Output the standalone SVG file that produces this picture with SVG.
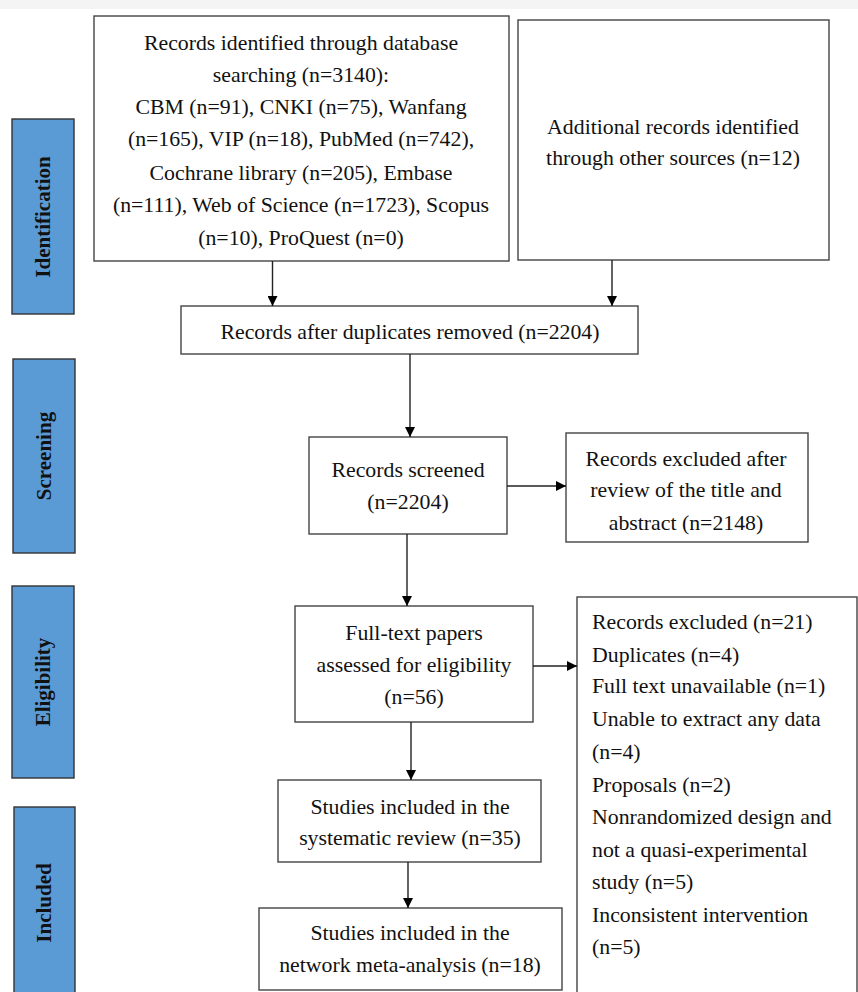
<svg xmlns="http://www.w3.org/2000/svg" width="858" height="992" viewBox="0 0 858 992">
<defs>
<style>
.box{fill:#fff;stroke:#444;stroke-width:1.4}
.bar{fill:#5b9bd5;stroke:#333;stroke-width:1.4}
.t{font-family:"Liberation Serif","Times New Roman",serif;font-size:21.8px;fill:#111}
.c{text-anchor:middle}
.v{font-family:"Liberation Serif","Times New Roman",serif;font-size:21px;font-weight:bold;fill:#111;text-anchor:middle}
.ln{stroke:#222;stroke-width:1.4;fill:none;marker-end:url(#ah)}
</style>
<marker id="ah" viewBox="0 0 10 10" refX="10" refY="5" markerWidth="10" markerHeight="10" markerUnits="userSpaceOnUse" orient="auto">
<path d="M0,0 L10,5 L0,10 z" fill="#000"/>
</marker>
</defs>
<rect x="0" y="0" width="858" height="992" fill="#fff"/>
<rect x="0" y="0" width="858" height="9" fill="#f4f4f4"/>

<g id="phase-identification"><rect class="bar" x="12" y="119" width="62" height="195"/><text class="v" transform="translate(50,217) rotate(-90)">Identification</text></g>
<g id="phase-screening"><rect class="bar" x="13" y="359" width="62" height="194"/><text class="v" transform="translate(51,456) rotate(-90)">Screening</text></g>
<g id="phase-eligibility"><rect class="bar" x="12" y="586" width="62" height="192"/><text class="v" transform="translate(50,682) rotate(-90)">Eligibility</text></g>
<g id="phase-included"><rect class="bar" x="14" y="807" width="61" height="200"/><text class="v" transform="translate(51,903) rotate(-90)">Included</text></g>

<g id="n-database"><rect class="box" x="94" y="16" width="415" height="245"/>
<text class="t c" x="301" y="50">Records identified through database</text>
<text class="t c" x="301" y="82">searching (n=3140):</text>
<text class="t c" x="301" y="114">CBM (n=91), CNKI (n=75), Wanfang</text>
<text class="t c" x="301" y="146">(n=165), VIP (n=18), PubMed (n=742),</text>
<text class="t c" x="301" y="180">Cochrane library (n=205), Embase</text>
<text class="t c" x="301" y="212">(n=111), Web of Science (n=1723), Scopus</text>
<text class="t c" x="301" y="245">(n=10), ProQuest (n=0)</text>
</g>
<g id="n-other"><rect class="box" x="518" y="20" width="311" height="240"/>
<text class="t c" x="673" y="134">Additional records identified</text>
<text class="t c" x="673" y="165">through other sources (n=12)</text>
</g>
<g id="n-dedup"><rect class="box" x="181" y="306" width="457" height="48"/>
<text class="t c" x="410" y="339">Records after duplicates removed (n=2204)</text>
</g>
<g id="n-screened"><rect class="box" x="309" y="437" width="198" height="97"/>
<text class="t c" x="408" y="477">Records screened</text>
<text class="t c" x="408" y="509">(n=2204)</text>
</g>
<g id="n-excl1"><rect class="box" x="566" y="433" width="242" height="109"/>
<text class="t c" x="686" y="466">Records excluded after</text>
<text class="t c" x="686" y="497">review of the title and</text>
<text class="t c" x="686" y="530">abstract (n=2148)</text>
</g>
<g id="n-fulltext"><rect class="box" x="295" y="606" width="238" height="116"/>
<text class="t c" x="414" y="640">Full-text papers</text>
<text class="t c" x="414" y="672">assessed for eligibility</text>
<text class="t c" x="414" y="704">(n=56)</text>
</g>
<g id="n-excl2"><rect class="box" x="577" y="597" width="280" height="410"/>
<text class="t" x="592" y="629">Records excluded (n=21)</text>
<text class="t" x="592" y="662">Duplicates (n=4)</text>
<text class="t" x="592" y="693">Full text unavailable (n=1)</text>
<text class="t" x="592" y="726">Unable to extract any data</text>
<text class="t" x="592" y="759">(n=4)</text>
<text class="t" x="592" y="792">Proposals (n=2)</text>
<text class="t" x="592" y="824">Nonrandomized design and</text>
<text class="t" x="592" y="857">not a quasi-experimental</text>
<text class="t" x="592" y="889">study (n=5)</text>
<text class="t" x="592" y="922">Inconsistent intervention</text>
<text class="t" x="592" y="954">(n=5)</text>
</g>
<g id="n-sr"><rect class="box" x="278" y="780" width="263" height="82"/>
<text class="t c" x="410" y="814">Studies included in the</text>
<text class="t c" x="410" y="845">systematic review (n=35)</text>
</g>
<g id="n-nma"><rect class="box" x="259" y="908" width="303" height="82"/>
<text class="t c" x="410" y="940">Studies included in the</text>
<text class="t c" x="410" y="972">network meta-analysis (n=18)</text>
</g>

<g id="connectors">
<line class="ln" x1="272.5" y1="261" x2="272.5" y2="306"/>
<line class="ln" x1="612" y1="260" x2="612" y2="306"/>
<line class="ln" x1="410" y1="354" x2="410" y2="437"/>
<line class="ln" x1="507" y1="486" x2="566" y2="486"/>
<line class="ln" x1="407" y1="534" x2="407" y2="606"/>
<line class="ln" x1="533" y1="666" x2="577" y2="666"/>
<line class="ln" x1="411" y1="722" x2="411" y2="780"/>
<line class="ln" x1="408" y1="862" x2="408" y2="908"/>
</g>
</svg>
